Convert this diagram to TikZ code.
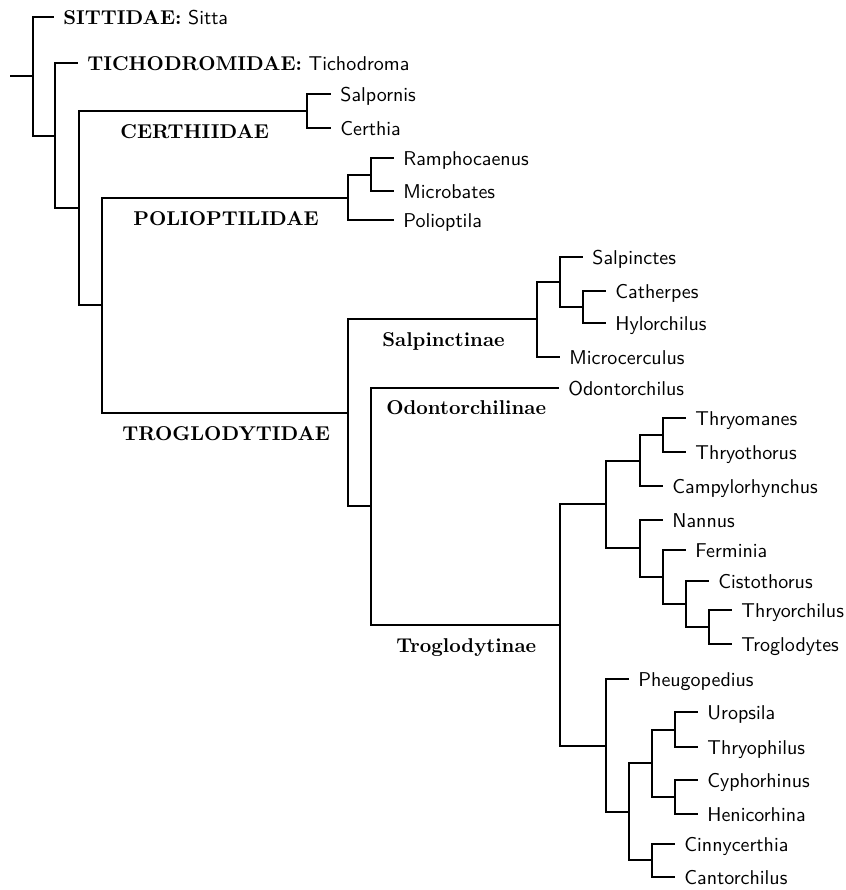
\documentclass[tikz,border=0pt]{standalone}
\usepackage{fontspec}
\begin{document}
\begin{tikzpicture}[x=0.5pt,y=-0.5pt,
  branch/.style={line width=1pt},
  leafnode/.style={anchor=west, inner xsep=4.5pt, inner ysep=0pt, text height=7pt, text depth=0pt, font=\sffamily},
  cladelabel/.style={anchor=west, inner sep=0pt, text height=7pt, text depth=0pt, font=\rmfamily\bfseries}]
\useasboundingbox (0,0) rectangle (846,890);
% internal nodes
\coordinate (root0) at (10,76);
\coordinate (r) at (33,76);
\coordinate (A) at (55,136);
\coordinate (B) at (79,208);
\coordinate (certh) at (307,111);
\coordinate (C) at (102,305);
\coordinate (polio) at (348,198);
\coordinate (rm) at (371,175);
\coordinate (trog) at (348,413);
\coordinate (salp) at (537,319);
\coordinate (s1) at (560,282);
\coordinate (s2) at (583,307);
\coordinate (ot) at (371,506);
\coordinate (trogl) at (560,625);
\coordinate (t1) at (606,504);
\coordinate (t11) at (640,461);
\coordinate (t111) at (663,435);
\coordinate (t12) at (640,548);
\coordinate (t121) at (663,577);
\coordinate (t1211) at (686,604);
\coordinate (t12111) at (709,627);
\coordinate (t2) at (606,746);
\coordinate (t21) at (629,812);
\coordinate (t211) at (652,763);
\coordinate (t2111) at (675,730);
\coordinate (t2112) at (675,797);
\coordinate (t212) at (652,860);
% leaves
\node[leafnode] (sitta) at (54,17) {{\rmfamily\bfseries SITTIDAE:} Sitta};
\node[leafnode] (tichodroma) at (78,63) {{\rmfamily\bfseries TICHODROMIDAE:} Tichodroma};
\node[leafnode] (salpornis) at (331,94) {Salpornis};
\node[leafnode] (certhia) at (331,128) {Certhia};
\node[leafnode] (ramphocaenus) at (394,158) {Ramphocaenus};
\node[leafnode] (microbates) at (394,191) {Microbates};
\node[leafnode] (polioptila) at (394,220) {Polioptila};
\node[leafnode] (salpinctes) at (583,257) {Salpinctes};
\node[leafnode] (catherpes) at (606,291) {Catherpes};
\node[leafnode] (hylorchilus) at (606,323) {Hylorchilus};
\node[leafnode] (microcerculus) at (560,357) {Microcerculus};
\node[leafnode] (odontorchilus) at (559,388) {Odontorchilus};
\node[leafnode] (thryomanes) at (686,418) {Thryomanes};
\node[leafnode] (thryothorus) at (686,452) {Thryothorus};
\node[leafnode] (campylorhynchus) at (663,486) {Campylorhynchus};
\node[leafnode] (nannus) at (663,520) {Nannus};
\node[leafnode] (ferminia) at (686,550) {Ferminia};
\node[leafnode] (cistothorus) at (709,581) {Cistothorus};
\node[leafnode] (thryorchilus) at (732,610) {Thryorchilus};
\node[leafnode] (troglodytes) at (732,644) {Troglodytes};
\node[leafnode] (pheugopedius) at (629,679) {Pheugopedius};
\node[leafnode] (uropsila) at (698,712) {Uropsila};
\node[leafnode] (thryophilus) at (698,747) {Thryophilus};
\node[leafnode] (cyphorhinus) at (698,780) {Cyphorhinus};
\node[leafnode] (henicorhina) at (698,814) {Henicorhina};
\node[leafnode] (cinnycerthia) at (675,844) {Cinnycerthia};
\node[leafnode] (cantorchilus) at (675,877) {Cantorchilus};
% clade labels
\node[cladelabel] (lcerth) at (120,131) {CERTHIIDAE};
\node[cladelabel] (lpolio) at (133,218) {POLIOPTILIDAE};
\node[cladelabel] (ltrog) at (122,433) {TROGLODYTIDAE};
\node[cladelabel] (lsalp) at (382,339) {Salpinctinae};
\node[cladelabel] (lodon) at (386,407) {Odontorchilinae};
\node[cladelabel] (ltrogl) at (396,645) {Troglodytinae};
% branches
\draw[branch] (root0) -- (r);
\foreach \a/\b in {r/sitta, r/A, A/tichodroma, A/B, B/certh, B/C,
  certh/salpornis, certh/certhia, C/polio, C/trog, polio/rm, polio/polioptila,
  rm/ramphocaenus, rm/microbates, trog/salp, trog/ot, salp/s1, salp/microcerculus,
  s1/salpinctes, s1/s2, s2/catherpes, s2/hylorchilus, ot/odontorchilus, ot/trogl,
  trogl/t1, trogl/t2, t1/t11, t1/t12, t11/t111, t11/campylorhynchus,
  t111/thryomanes, t111/thryothorus, t12/nannus, t12/t121, t121/ferminia, t121/t1211,
  t1211/cistothorus, t1211/t12111, t12111/thryorchilus, t12111/troglodytes,
  t2/pheugopedius, t2/t21, t21/t211, t21/t212, t211/t2111, t211/t2112,
  t2111/uropsila, t2111/thryophilus, t2112/cyphorhinus, t2112/henicorhina,
  t212/cinnycerthia, t212/cantorchilus}
  \draw[branch] (\a) |- (\b);
\end{tikzpicture}
\end{document}
